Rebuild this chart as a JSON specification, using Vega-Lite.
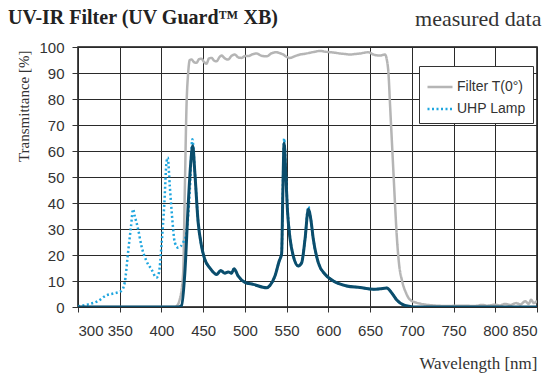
{
  "$schema": "https://vega.github.io/schema/vega-lite/v6.json",
  "width": 459,
  "height": 260,
  "autosize": {"type": "none"},
  "padding": {"left": 78, "top": 47, "right": 13, "bottom": 71},
  "background": "white",
  "title": {
    "text": "UV-IR Filter (UV Guard™ XB)",
    "anchor": "start",
    "frame": "group",
    "font": "Liberation Serif",
    "fontSize": 20,
    "fontWeight": "bold",
    "color": "#222222",
    "baseline": "alphabetic",
    "dx": -70,
    "offset": 0,
    "dy": 37
  },
  "config": {
    "view": {"stroke": "#111111", "strokeWidth": 1.5},
    "font": "Liberation Sans",
    "axis": {
      "labelFont": "Liberation Sans",
      "labelFontSize": 15,
      "labelColor": "#333333",
      "tickColor": "#333333",
      "gridColor": "#2a2a2a",
      "gridWidth": 1,
      "gridOpacity": 1,
      "domainColor": "#111111",
      "titleFont": "Liberation Serif",
      "titleFontWeight": "normal",
      "titleColor": "#333333"
    }
  },
  "data": {
    "values": [
      {"series": "Filter T(0°)", "wl": 300, "t": 0},
      {"series": "Filter T(0°)", "wl": 415, "t": 0},
      {"series": "Filter T(0°)", "wl": 418, "t": 0.3},
      {"series": "Filter T(0°)", "wl": 422, "t": 3},
      {"series": "Filter T(0°)", "wl": 426, "t": 13},
      {"series": "Filter T(0°)", "wl": 428, "t": 45},
      {"series": "Filter T(0°)", "wl": 430, "t": 77},
      {"series": "Filter T(0°)", "wl": 432, "t": 90},
      {"series": "Filter T(0°)", "wl": 434, "t": 95},
      {"series": "Filter T(0°)", "wl": 436, "t": 95.2},
      {"series": "Filter T(0°)", "wl": 439, "t": 94.2},
      {"series": "Filter T(0°)", "wl": 442, "t": 93.9},
      {"series": "Filter T(0°)", "wl": 445, "t": 95.3},
      {"series": "Filter T(0°)", "wl": 448, "t": 95.5},
      {"series": "Filter T(0°)", "wl": 451, "t": 94.2},
      {"series": "Filter T(0°)", "wl": 454, "t": 93.6},
      {"series": "Filter T(0°)", "wl": 457, "t": 95.6},
      {"series": "Filter T(0°)", "wl": 460, "t": 95.8},
      {"series": "Filter T(0°)", "wl": 463, "t": 94.8},
      {"series": "Filter T(0°)", "wl": 466, "t": 94.5},
      {"series": "Filter T(0°)", "wl": 470, "t": 96.3},
      {"series": "Filter T(0°)", "wl": 472, "t": 96.7},
      {"series": "Filter T(0°)", "wl": 476, "t": 95.6},
      {"series": "Filter T(0°)", "wl": 480, "t": 95.2},
      {"series": "Filter T(0°)", "wl": 484, "t": 96.6},
      {"series": "Filter T(0°)", "wl": 488, "t": 97.1},
      {"series": "Filter T(0°)", "wl": 492, "t": 96},
      {"series": "Filter T(0°)", "wl": 496, "t": 95.8},
      {"series": "Filter T(0°)", "wl": 500, "t": 96.5},
      {"series": "Filter T(0°)", "wl": 504, "t": 96.5},
      {"series": "Filter T(0°)", "wl": 509, "t": 97.2},
      {"series": "Filter T(0°)", "wl": 514, "t": 97.5},
      {"series": "Filter T(0°)", "wl": 520, "t": 96.6},
      {"series": "Filter T(0°)", "wl": 526, "t": 96.4},
      {"series": "Filter T(0°)", "wl": 532, "t": 97.6},
      {"series": "Filter T(0°)", "wl": 538, "t": 98},
      {"series": "Filter T(0°)", "wl": 542, "t": 97.6},
      {"series": "Filter T(0°)", "wl": 546, "t": 97.1},
      {"series": "Filter T(0°)", "wl": 550, "t": 96.2},
      {"series": "Filter T(0°)", "wl": 554, "t": 95.8},
      {"series": "Filter T(0°)", "wl": 560, "t": 96.5},
      {"series": "Filter T(0°)", "wl": 566, "t": 97.1},
      {"series": "Filter T(0°)", "wl": 572, "t": 97.4},
      {"series": "Filter T(0°)", "wl": 578, "t": 97.8},
      {"series": "Filter T(0°)", "wl": 584, "t": 98.2},
      {"series": "Filter T(0°)", "wl": 590, "t": 98.5},
      {"series": "Filter T(0°)", "wl": 596, "t": 98.2},
      {"series": "Filter T(0°)", "wl": 602, "t": 98},
      {"series": "Filter T(0°)", "wl": 608, "t": 97.8},
      {"series": "Filter T(0°)", "wl": 614, "t": 97.5},
      {"series": "Filter T(0°)", "wl": 620, "t": 97.3},
      {"series": "Filter T(0°)", "wl": 626, "t": 97.1},
      {"series": "Filter T(0°)", "wl": 632, "t": 97.3},
      {"series": "Filter T(0°)", "wl": 638, "t": 97.5},
      {"series": "Filter T(0°)", "wl": 643, "t": 97.8},
      {"series": "Filter T(0°)", "wl": 648, "t": 98},
      {"series": "Filter T(0°)", "wl": 654, "t": 97.1},
      {"series": "Filter T(0°)", "wl": 658, "t": 96.8},
      {"series": "Filter T(0°)", "wl": 662, "t": 96.7},
      {"series": "Filter T(0°)", "wl": 666, "t": 97},
      {"series": "Filter T(0°)", "wl": 668, "t": 97.1},
      {"series": "Filter T(0°)", "wl": 670, "t": 95.2},
      {"series": "Filter T(0°)", "wl": 672, "t": 90},
      {"series": "Filter T(0°)", "wl": 674, "t": 77.2},
      {"series": "Filter T(0°)", "wl": 676, "t": 64.4},
      {"series": "Filter T(0°)", "wl": 678, "t": 51.6},
      {"series": "Filter T(0°)", "wl": 680, "t": 38.8},
      {"series": "Filter T(0°)", "wl": 682, "t": 27.2},
      {"series": "Filter T(0°)", "wl": 685, "t": 15.7},
      {"series": "Filter T(0°)", "wl": 688, "t": 10.5},
      {"series": "Filter T(0°)", "wl": 690, "t": 8},
      {"series": "Filter T(0°)", "wl": 693, "t": 5.5},
      {"series": "Filter T(0°)", "wl": 696, "t": 3.5},
      {"series": "Filter T(0°)", "wl": 700, "t": 2.3},
      {"series": "Filter T(0°)", "wl": 706, "t": 1.6},
      {"series": "Filter T(0°)", "wl": 715, "t": 1},
      {"series": "Filter T(0°)", "wl": 726, "t": 0.6},
      {"series": "Filter T(0°)", "wl": 740, "t": 0.4},
      {"series": "Filter T(0°)", "wl": 760, "t": 0.5},
      {"series": "Filter T(0°)", "wl": 775, "t": 0.4},
      {"series": "Filter T(0°)", "wl": 785, "t": 0.8},
      {"series": "Filter T(0°)", "wl": 790, "t": 0.5},
      {"series": "Filter T(0°)", "wl": 800, "t": 0.9},
      {"series": "Filter T(0°)", "wl": 805, "t": 0.6},
      {"series": "Filter T(0°)", "wl": 812, "t": 1.2},
      {"series": "Filter T(0°)", "wl": 818, "t": 0.8},
      {"series": "Filter T(0°)", "wl": 825, "t": 1.5},
      {"series": "Filter T(0°)", "wl": 830, "t": 1.0},
      {"series": "Filter T(0°)", "wl": 836, "t": 2.2},
      {"series": "Filter T(0°)", "wl": 840, "t": 1.2},
      {"series": "Filter T(0°)", "wl": 843, "t": 2.8},
      {"series": "Filter T(0°)", "wl": 846, "t": 1.5},
      {"series": "Filter T(0°)", "wl": 850, "t": 2.4},

      {"series": "UHP Lamp", "wl": 300, "t": 0.3},
      {"series": "UHP Lamp", "wl": 312, "t": 1},
      {"series": "UHP Lamp", "wl": 324, "t": 2.3},
      {"series": "UHP Lamp", "wl": 334, "t": 4.5},
      {"series": "UHP Lamp", "wl": 344, "t": 5.3},
      {"series": "UHP Lamp", "wl": 352, "t": 6.2},
      {"series": "UHP Lamp", "wl": 356, "t": 9.4},
      {"series": "UHP Lamp", "wl": 360, "t": 21},
      {"series": "UHP Lamp", "wl": 363.5, "t": 31},
      {"series": "UHP Lamp", "wl": 366, "t": 37.6},
      {"series": "UHP Lamp", "wl": 368, "t": 35},
      {"series": "UHP Lamp", "wl": 372, "t": 30},
      {"series": "UHP Lamp", "wl": 376, "t": 23.5},
      {"series": "UHP Lamp", "wl": 382, "t": 17.7},
      {"series": "UHP Lamp", "wl": 388, "t": 14.5},
      {"series": "UHP Lamp", "wl": 394, "t": 11.3},
      {"series": "UHP Lamp", "wl": 397, "t": 13.2},
      {"series": "UHP Lamp", "wl": 400, "t": 23.5},
      {"series": "UHP Lamp", "wl": 403.5, "t": 40},
      {"series": "UHP Lamp", "wl": 406, "t": 55.5},
      {"series": "UHP Lamp", "wl": 407.5, "t": 57.5},
      {"series": "UHP Lamp", "wl": 410, "t": 46.5},
      {"series": "UHP Lamp", "wl": 413, "t": 33.7},
      {"series": "UHP Lamp", "wl": 416, "t": 24.8},
      {"series": "UHP Lamp", "wl": 420, "t": 22.8},
      {"series": "UHP Lamp", "wl": 426, "t": 24.8},
      {"series": "UHP Lamp", "wl": 430, "t": 28.6},
      {"series": "UHP Lamp", "wl": 434, "t": 45},
      {"series": "UHP Lamp", "wl": 437, "t": 64.5},
      {"series": "UHP Lamp", "wl": 440, "t": 52},
      {"series": "UHP Lamp", "wl": 444, "t": 32.5},
      {"series": "UHP Lamp", "wl": 448, "t": 23.5},
      {"series": "UHP Lamp", "wl": 452, "t": 18.3},
      {"series": "UHP Lamp", "wl": 458, "t": 15},
      {"series": "UHP Lamp", "wl": 466, "t": 12.5},
      {"series": "UHP Lamp", "wl": 471, "t": 14},
      {"series": "UHP Lamp", "wl": 476, "t": 13},
      {"series": "UHP Lamp", "wl": 480, "t": 13.5},
      {"series": "UHP Lamp", "wl": 484, "t": 13},
      {"series": "UHP Lamp", "wl": 487, "t": 14.7},
      {"series": "UHP Lamp", "wl": 492, "t": 11.9},
      {"series": "UHP Lamp", "wl": 500, "t": 9.5},
      {"series": "UHP Lamp", "wl": 510, "t": 8.7},
      {"series": "UHP Lamp", "wl": 526, "t": 7.4},
      {"series": "UHP Lamp", "wl": 530, "t": 8.3},
      {"series": "UHP Lamp", "wl": 536, "t": 11.9},
      {"series": "UHP Lamp", "wl": 541, "t": 17.6},
      {"series": "UHP Lamp", "wl": 544, "t": 20.5},
      {"series": "UHP Lamp", "wl": 545.5, "t": 46},
      {"series": "UHP Lamp", "wl": 547, "t": 64.8},
      {"series": "UHP Lamp", "wl": 549, "t": 52},
      {"series": "UHP Lamp", "wl": 551, "t": 38},
      {"series": "UHP Lamp", "wl": 554, "t": 27},
      {"series": "UHP Lamp", "wl": 558, "t": 19.6},
      {"series": "UHP Lamp", "wl": 564, "t": 15.8},
      {"series": "UHP Lamp", "wl": 568, "t": 17},
      {"series": "UHP Lamp", "wl": 572, "t": 26},
      {"series": "UHP Lamp", "wl": 576, "t": 38.6},
      {"series": "UHP Lamp", "wl": 579, "t": 33.7},
      {"series": "UHP Lamp", "wl": 582, "t": 26},
      {"series": "UHP Lamp", "wl": 588, "t": 17},
      {"series": "UHP Lamp", "wl": 596, "t": 12.6},
      {"series": "UHP Lamp", "wl": 606, "t": 10},
      {"series": "UHP Lamp", "wl": 622, "t": 8.1},
      {"series": "UHP Lamp", "wl": 638, "t": 7.5},
      {"series": "UHP Lamp", "wl": 654, "t": 6.8},
      {"series": "UHP Lamp", "wl": 662, "t": 7},
      {"series": "UHP Lamp", "wl": 670, "t": 7.3},
      {"series": "UHP Lamp", "wl": 676, "t": 5.4},
      {"series": "UHP Lamp", "wl": 682, "t": 2.7},
      {"series": "UHP Lamp", "wl": 690, "t": 0.8},
      {"series": "UHP Lamp", "wl": 698, "t": 0.2},

      {"series": "Product", "wl": 300, "t": 0},
      {"series": "Product", "wl": 420, "t": 0},
      {"series": "Product", "wl": 424, "t": 0.5},
      {"series": "Product", "wl": 428, "t": 13},
      {"series": "Product", "wl": 432, "t": 39},
      {"series": "Product", "wl": 435, "t": 55},
      {"series": "Product", "wl": 437.5, "t": 62},
      {"series": "Product", "wl": 440, "t": 51.7},
      {"series": "Product", "wl": 444, "t": 32.5},
      {"series": "Product", "wl": 448, "t": 23.5},
      {"series": "Product", "wl": 452, "t": 18.3},
      {"series": "Product", "wl": 458, "t": 15},
      {"series": "Product", "wl": 466, "t": 12.5},
      {"series": "Product", "wl": 471, "t": 14},
      {"series": "Product", "wl": 476, "t": 13},
      {"series": "Product", "wl": 480, "t": 13.5},
      {"series": "Product", "wl": 484, "t": 13},
      {"series": "Product", "wl": 487, "t": 14.7},
      {"series": "Product", "wl": 492, "t": 11.9},
      {"series": "Product", "wl": 500, "t": 9.5},
      {"series": "Product", "wl": 510, "t": 8.7},
      {"series": "Product", "wl": 526, "t": 7.4},
      {"series": "Product", "wl": 530, "t": 8.3},
      {"series": "Product", "wl": 536, "t": 11.9},
      {"series": "Product", "wl": 541, "t": 17.6},
      {"series": "Product", "wl": 544, "t": 20.5},
      {"series": "Product", "wl": 545.5, "t": 45},
      {"series": "Product", "wl": 547, "t": 63},
      {"series": "Product", "wl": 549, "t": 51},
      {"series": "Product", "wl": 551, "t": 37},
      {"series": "Product", "wl": 554, "t": 26.5},
      {"series": "Product", "wl": 558, "t": 19.6},
      {"series": "Product", "wl": 564, "t": 15.8},
      {"series": "Product", "wl": 568, "t": 17},
      {"series": "Product", "wl": 572, "t": 26},
      {"series": "Product", "wl": 576, "t": 37.6},
      {"series": "Product", "wl": 579, "t": 33.7},
      {"series": "Product", "wl": 582, "t": 26},
      {"series": "Product", "wl": 588, "t": 17},
      {"series": "Product", "wl": 596, "t": 12.6},
      {"series": "Product", "wl": 606, "t": 10},
      {"series": "Product", "wl": 622, "t": 8.1},
      {"series": "Product", "wl": 638, "t": 7.5},
      {"series": "Product", "wl": 654, "t": 6.8},
      {"series": "Product", "wl": 662, "t": 7},
      {"series": "Product", "wl": 670, "t": 7.3},
      {"series": "Product", "wl": 676, "t": 5.4},
      {"series": "Product", "wl": 682, "t": 2.7},
      {"series": "Product", "wl": 690, "t": 0.8},
      {"series": "Product", "wl": 698, "t": 0.2},
      {"series": "Product", "wl": 704, "t": 0},
      {"series": "Product", "wl": 850, "t": 0}
    ]
  },
  "layer": [
    {
      "transform": [{"filter": "datum.series !== 'Product'"}],
      "mark": {"type": "line", "strokeWidth": 2.5, "interpolate": "monotone", "clip": true},
      "encoding": {
        "x": {
          "field": "wl", "type": "quantitative",
          "scale": {"domain": [300, 850], "nice": false, "zero": false},
          "axis": {
            "values": [300, 350, 400, 450, 500, 550, 600, 650, 700, 750, 800, 850],
            "grid": true, "domain": false, "tickSize": 5, "labelPadding": 11,
            "labelFontSize": 15, "labelOverlap": false,
            "title": "Wavelength [nm]", "titleFontSize": 17,
            "titleAnchor": "end", "titleAlign": "right", "titleBaseline": "alphabetic",
            "titleX": 459, "titleY": 61
          }
        },
        "y": {
          "field": "t", "type": "quantitative",
          "scale": {"domain": [0, 100], "nice": false},
          "axis": {
            "values": [0, 10, 20, 30, 40, 50, 60, 70, 80, 90, 100],
            "tickCount": 11, "labelOverlap": false,
            "grid": true, "domain": false, "tickSize": 6, "labelPadding": 8,
            "labelFontSize": 15,
            "title": "Transmittance [%]", "titleFontSize": 15,
            "titleAngle": -90, "titleAlign": "right", "titleBaseline": "alphabetic",
            "titleAnchor": "end", "titleX": -50, "titleY": 3
          }
        },
        "color": {
          "field": "series", "type": "nominal",
          "scale": {"domain": ["Filter T(0°)", "UHP Lamp"], "range": ["#b5b5b5", "#1ea6df"]},
          "legend": {
            "title": null, "orient": "none", "legendX": 341, "legendY": 19,
            "padding": 7, "fillColor": "white", "strokeColor": "#333333",
            "labelFont": "Liberation Sans", "labelFontSize": 14, "labelColor": "#333333",
            "symbolType": "stroke", "symbolSize": 625, "symbolStrokeWidth": 2.5,
            "rowPadding": 1, "labelOffset": 3
          }
        },
        "strokeDash": {
          "field": "series", "type": "nominal",
          "scale": {"domain": ["Filter T(0°)", "UHP Lamp"], "range": [[1, 0], [2, 2.5]]},
          "legend": null
        }
      }
    },
    {
      "transform": [{"filter": "datum.series === 'Product'"}],
      "mark": {"type": "line", "strokeWidth": 3, "color": "#0b4d6c", "interpolate": "monotone", "clip": true},
      "encoding": {
        "x": {
          "field": "wl", "type": "quantitative",
          "scale": {"domain": [300, 850], "nice": false, "zero": false},
          "axis": {
            "orient": "top", "labels": false, "ticks": false, "domain": false, "grid": false,
            "title": "measured data", "titleFontSize": 22, "titleColor": "#333333",
            "titleAnchor": "end", "titleAlign": "right", "titleBaseline": "alphabetic",
            "titleX": 463, "titleY": -22
          }
        },
        "y": {
          "field": "t", "type": "quantitative",
          "scale": {"domain": [0, 100], "nice": false},
          "axis": {
            "values": [0, 10, 20, 30, 40, 50, 60, 70, 80, 90, 100],
            "tickCount": 11, "labelOverlap": false,
            "grid": true, "domain": false, "tickSize": 6, "labelPadding": 8,
            "labelFontSize": 15,
            "title": "Transmittance [%]", "titleFontSize": 15,
            "titleAngle": -90, "titleAlign": "right", "titleBaseline": "alphabetic",
            "titleAnchor": "end", "titleX": -50, "titleY": 3
          }
        }
      }
    }
  ],
  "resolve": {"axis": {"x": "independent"}}
}
